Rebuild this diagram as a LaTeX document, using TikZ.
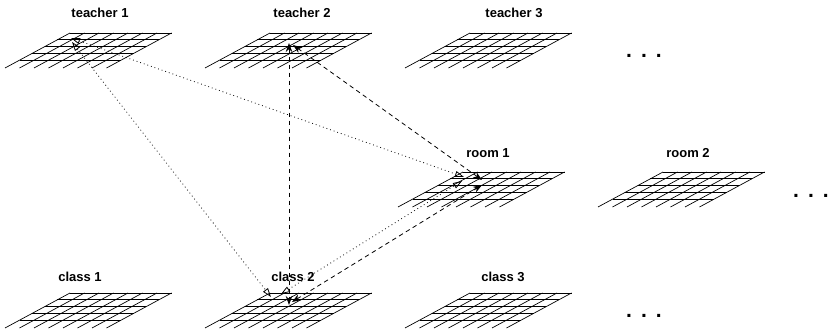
\documentclass[tikz,border=0pt]{standalone}
\usepackage{fontspec}
\setmainfont{Liberation Sans}
\usetikzlibrary{arrows.meta}
\begin{document}
\begin{tikzpicture}[x=1pt,y=-1pt,
  gridline/.style={line width=0.7pt, line cap=butt},
  gridpic/.pic={
    \foreach \i in {0,...,7} \draw[gridline] (\i*14.5,0) -- ++(-65,35);
    \foreach \d in {0,6.75,13.5,20.25,27} \draw[gridline] (-1.857*\d,\d) -- ++(101.5,0);
  },
  lbl/.style={font=\fontsize{13}{15}\selectfont\bfseries, anchor=base, inner sep=0pt},
  dots/.style={font=\fontsize{21}{21}\selectfont\bfseries, anchor=base west, inner sep=0pt},
  dotarrow/.style={dash pattern=on 0.8pt off 3pt, line width=0.8pt,
    {Triangle[open,length=9pt,width=6pt]}-{Triangle[open,length=9pt,width=6pt]}},
  dasharrow/.style={dash pattern=on 4.5pt off 3.5pt, line width=0.8pt,
    {Stealth[length=9pt,width=6.5pt]}-{Stealth[length=9pt,width=6.5pt]}}
]
\useasboundingbox (0,0) rectangle (831,336);

% grids
\pic at (70,33) {gridpic};
\pic at (270,33) {gridpic};
\pic at (470,33) {gridpic};
\pic at (463,172) {gridpic};
\pic at (663,172) {gridpic};
\pic at (70,293) {gridpic};
\pic at (270,293) {gridpic};
\pic at (470,293) {gridpic};

% labels
\node[lbl] (lt1) at (100,18) {teacher 1};
\node[lbl] (lt2) at (302,18) {teacher 2};
\node[lbl] (lt3) at (514,18) {teacher 3};
\node[lbl] (lr1) at (488,158) {room 1};
\node[lbl] (lr2) at (688,158) {room 2};
\node[lbl] (lc1) at (80,282) {class 1};
\node[lbl] (lc2) at (293,282) {class 2};
\node[lbl] (lc3) at (503,282) {class 3};

% ellipses
\node[dots] (d1) at (626,58) {.\hspace{9pt}.\hspace{9pt}.};
\node[dots] (d2) at (793,198) {.\hspace{9pt}.\hspace{9pt}.};
\node[dots] (d3) at (626,318) {.\hspace{9pt}.\hspace{9pt}.};

% connector end points
\coordinate (t1r) at (71,38);
\coordinate (t1c) at (72,42);
\coordinate (r1t) at (464,177);
\coordinate (r1c) at (462,181);
\coordinate (c2t) at (271,297);
\coordinate (c2r) at (281,294);
\coordinate (t2c) at (289,43);
\coordinate (c2v) at (289,305);
\coordinate (t2r) at (293,45);
\coordinate (r1d) at (482,180);
\coordinate (c2d) at (292,302);
\coordinate (r1e) at (482,185);

% connectors
\draw[dotarrow] (t1r) -- (r1t);
\draw[dotarrow] (t1c) -- (c2t);
\draw[dotarrow] (c2r) -- (r1c);
\draw[dasharrow] (t2c) -- (c2v);
\draw[dasharrow] (t2r) -- (r1d);
\draw[dasharrow] (c2d) -- (r1e);
\end{tikzpicture}
\end{document}
